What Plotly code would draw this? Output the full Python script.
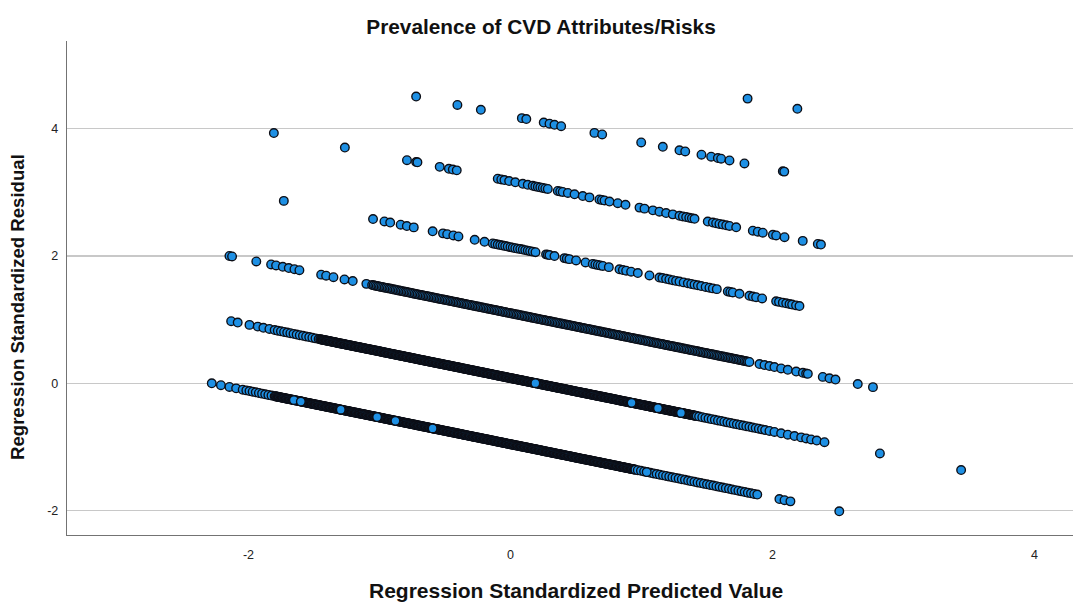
import plotly.graph_objects as go

# ---------------- data ----------------
title_text = "Prevalence of CVD Attributes/Risks"
x_title = "Regression Standardized Predicted Value"
y_title = "Regression Standardized Residual"
x_tick_vals = [-2, 0, 2, 4]
x_tick_text = ["-2", "0", "2", "4"]
y_tick_vals = [-2, 0, 2, 4]
y_tick_text = ["-2", "0", "2", "4"]

# band 0 (lowest stripe)
band0_x = [
    -2.280, -2.210, -2.145, -2.094, -2.044,
    -2.016, -1.992, -1.968, -1.944, -1.920, -1.896, -1.872, -1.848, -1.824,
    -1.800, -1.788, -1.776, -1.764, -1.752, -1.740, -1.728, -1.716, -1.704, -1.692,
    -1.680, -1.668, -1.656, -1.644, -1.632, -1.620, -1.608, -1.596, -1.584, -1.572,
    -1.560, -1.548, -1.536, -1.524, -1.512, -1.500, -1.488, -1.476, -1.464, -1.452,
    -1.440, -1.428, -1.416, -1.404, -1.392, -1.380, -1.368, -1.356, -1.344, -1.332,
    -1.320, -1.308, -1.296, -1.284, -1.272, -1.260, -1.248, -1.236, -1.224, -1.212,
    -1.200, -1.188, -1.176, -1.164, -1.152, -1.140, -1.128, -1.116, -1.104, -1.092,
    -1.080, -1.068, -1.056, -1.044, -1.032, -1.020, -1.008, -0.996, -0.984, -0.972,
    -0.960, -0.948, -0.936, -0.924, -0.912, -0.900, -0.888, -0.876, -0.864, -0.852,
    -0.840, -0.828, -0.816, -0.804, -0.792, -0.780, -0.768, -0.756, -0.744, -0.732,
    -0.720, -0.708, -0.696, -0.684, -0.672, -0.660, -0.648, -0.636, -0.624, -0.612,
    -0.600, -0.588, -0.576, -0.564, -0.552, -0.540, -0.528, -0.516, -0.504, -0.492,
    -0.480, -0.468, -0.456, -0.444, -0.432, -0.420, -0.408, -0.396, -0.384, -0.372,
    -0.360, -0.348, -0.336, -0.324, -0.312, -0.300, -0.288, -0.276, -0.264, -0.252,
    -0.240, -0.228, -0.216, -0.204, -0.192, -0.180, -0.168, -0.156, -0.144, -0.132,
    -0.120, -0.108, -0.096, -0.084, -0.072, -0.060, -0.048, -0.036, -0.024, -0.012,
    0.000, 0.012, 0.024, 0.036, 0.048, 0.060, 0.072, 0.084, 0.096, 0.108,
    0.120, 0.132, 0.144, 0.156, 0.168, 0.180, 0.192, 0.204, 0.216, 0.228,
    0.240, 0.252, 0.264, 0.276, 0.288, 0.300, 0.312, 0.324, 0.336, 0.348,
    0.360, 0.372, 0.384, 0.396, 0.408, 0.420, 0.432, 0.444, 0.456, 0.468,
    0.480, 0.492, 0.504, 0.516, 0.528, 0.540, 0.552, 0.564, 0.576, 0.588,
    0.600, 0.612, 0.624, 0.636, 0.648, 0.660, 0.672, 0.684, 0.696, 0.708,
    0.720, 0.732, 0.744, 0.756, 0.768, 0.780, 0.792, 0.804, 0.816, 0.828,
    0.840, 0.852, 0.864, 0.876, 0.888, 0.900, 0.912, 0.924, 0.936, 0.948,
    0.972, 0.996, 1.020, 1.044, 1.068, 1.092, 1.116, 1.140, 1.164, 1.188,
    1.212, 1.236, 1.260, 1.284, 1.308, 1.332, 1.356, 1.380, 1.404, 1.428,
    1.452, 1.476, 1.500, 1.524, 1.548, 1.572, 1.596, 1.620, 1.644, 1.668,
    1.692, 1.716, 1.740, 1.764, 1.788, 1.812, 1.836, 1.860, 1.884,
    2.053, 2.092, 2.137, 2.510,
]
band0_y = [
    -0.002, -0.032, -0.059, -0.081, -0.102,
    -0.113, -0.123, -0.133, -0.143, -0.154, -0.164, -0.174, -0.184, -0.194,
    -0.204, -0.209, -0.214, -0.219, -0.224, -0.229, -0.234, -0.239, -0.244, -0.249,
    -0.254, -0.259, -0.264, -0.269, -0.274, -0.279, -0.284, -0.289, -0.294, -0.299,
    -0.305, -0.310, -0.315, -0.320, -0.325, -0.330, -0.335, -0.340, -0.345, -0.350,
    -0.355, -0.360, -0.365, -0.370, -0.375, -0.380, -0.385, -0.390, -0.395, -0.400,
    -0.406, -0.411, -0.416, -0.421, -0.426, -0.431, -0.436, -0.441, -0.446, -0.451,
    -0.456, -0.461, -0.466, -0.471, -0.476, -0.481, -0.486, -0.491, -0.496, -0.501,
    -0.506, -0.511, -0.516, -0.521, -0.526, -0.531, -0.536, -0.541, -0.546, -0.551,
    -0.557, -0.562, -0.567, -0.572, -0.577, -0.582, -0.587, -0.592, -0.597, -0.602,
    -0.607, -0.612, -0.617, -0.622, -0.627, -0.632, -0.637, -0.642, -0.647, -0.652,
    -0.658, -0.663, -0.668, -0.673, -0.678, -0.683, -0.688, -0.693, -0.698, -0.703,
    -0.708, -0.713, -0.718, -0.723, -0.728, -0.733, -0.738, -0.743, -0.748, -0.753,
    -0.758, -0.763, -0.768, -0.773, -0.778, -0.783, -0.788, -0.793, -0.798, -0.803,
    -0.809, -0.814, -0.819, -0.824, -0.829, -0.834, -0.839, -0.844, -0.849, -0.854,
    -0.859, -0.864, -0.869, -0.874, -0.879, -0.884, -0.889, -0.894, -0.899, -0.904,
    -0.910, -0.915, -0.920, -0.925, -0.930, -0.935, -0.940, -0.945, -0.950, -0.955,
    -0.960, -0.965, -0.970, -0.975, -0.980, -0.985, -0.990, -0.995, -1.000, -1.005,
    -1.010, -1.015, -1.020, -1.025, -1.030, -1.035, -1.040, -1.045, -1.050, -1.055,
    -1.061, -1.066, -1.071, -1.076, -1.081, -1.086, -1.091, -1.096, -1.101, -1.106,
    -1.111, -1.116, -1.121, -1.126, -1.131, -1.136, -1.141, -1.146, -1.151, -1.156,
    -1.162, -1.167, -1.172, -1.177, -1.182, -1.187, -1.192, -1.197, -1.202, -1.207,
    -1.212, -1.217, -1.222, -1.227, -1.232, -1.237, -1.242, -1.247, -1.252, -1.257,
    -1.262, -1.267, -1.272, -1.277, -1.282, -1.287, -1.292, -1.297, -1.302, -1.307,
    -1.313, -1.318, -1.323, -1.328, -1.333, -1.338, -1.343, -1.348, -1.353, -1.358,
    -1.368, -1.378, -1.388, -1.398, -1.409, -1.419, -1.429, -1.439, -1.449, -1.459,
    -1.469, -1.479, -1.489, -1.499, -1.509, -1.519, -1.530, -1.540, -1.550, -1.560,
    -1.570, -1.580, -1.590, -1.600, -1.610, -1.620, -1.630, -1.640, -1.650, -1.661,
    -1.671, -1.681, -1.691, -1.701, -1.711, -1.721, -1.731, -1.741, -1.751,
    -1.822, -1.839, -1.858, -2.014,
]
# further cases packed between the ones above in the solid part of band 0
band0_mid_x = [
    -1.794, -1.782, -1.770, -1.758, -1.746, -1.734, -1.722, -1.710, -1.698, -1.686,
    -1.674, -1.662, -1.650, -1.638, -1.626, -1.614, -1.602, -1.590, -1.578, -1.566,
    -1.554, -1.542, -1.530, -1.518, -1.506, -1.494, -1.482, -1.470, -1.458, -1.446,
    -1.434, -1.422, -1.410, -1.398, -1.386, -1.374, -1.362, -1.350, -1.338, -1.326,
    -1.314, -1.302, -1.290, -1.278, -1.266, -1.254, -1.242, -1.230, -1.218, -1.206,
    -1.194, -1.182, -1.170, -1.158, -1.146, -1.134, -1.122, -1.110, -1.098, -1.086,
    -1.074, -1.062, -1.050, -1.038, -1.026, -1.014, -1.002, -0.990, -0.978, -0.966,
    -0.954, -0.942, -0.930, -0.918, -0.906, -0.894, -0.882, -0.870, -0.858, -0.846,
    -0.834, -0.822, -0.810, -0.798, -0.786, -0.774, -0.762, -0.750, -0.738, -0.726,
    -0.714, -0.702, -0.690, -0.678, -0.666, -0.654, -0.642, -0.630, -0.618, -0.606,
    -0.594, -0.582, -0.570, -0.558, -0.546, -0.534, -0.522, -0.510, -0.498, -0.486,
    -0.474, -0.462, -0.450, -0.438, -0.426, -0.414, -0.402, -0.390, -0.378, -0.366,
    -0.354, -0.342, -0.330, -0.318, -0.306, -0.294, -0.282, -0.270, -0.258, -0.246,
    -0.234, -0.222, -0.210, -0.198, -0.186, -0.174, -0.162, -0.150, -0.138, -0.126,
    -0.114, -0.102, -0.090, -0.078, -0.066, -0.054, -0.042, -0.030, -0.018, -0.006,
    0.006, 0.018, 0.030, 0.042, 0.054, 0.066, 0.078, 0.090, 0.102, 0.114,
    0.126, 0.138, 0.150, 0.162, 0.174, 0.186, 0.198, 0.210, 0.222, 0.234,
    0.246, 0.258, 0.270, 0.282, 0.294, 0.306, 0.318, 0.330, 0.342, 0.354,
    0.366, 0.378, 0.390, 0.402, 0.414, 0.426, 0.438, 0.450, 0.462, 0.474,
    0.486, 0.498, 0.510, 0.522, 0.534, 0.546, 0.558, 0.570, 0.582, 0.594,
    0.606, 0.618, 0.630, 0.642, 0.654, 0.666, 0.678, 0.690, 0.702, 0.714,
    0.726, 0.738, 0.750, 0.762, 0.774, 0.786, 0.798, 0.810, 0.822, 0.834,
    0.846, 0.858, 0.870, 0.882, 0.894, 0.906, 0.918, 0.930, 0.942, 0.954,
]
band0_mid_y = [
    -0.2065, -0.2115, -0.2165, -0.2215, -0.2265, -0.2315, -0.2365, -0.2415, -0.2465, -0.2515,
    -0.2565, -0.2615, -0.2665, -0.2715, -0.2765, -0.2815, -0.2865, -0.2915, -0.2965, -0.3015,
    -0.3075, -0.3125, -0.3175, -0.3225, -0.3275, -0.3325, -0.3375, -0.3425, -0.3475, -0.3525,
    -0.3575, -0.3625, -0.3675, -0.3725, -0.3775, -0.3825, -0.3875, -0.3925, -0.3975, -0.4025,
    -0.4085, -0.4135, -0.4185, -0.4235, -0.4285, -0.4335, -0.4385, -0.4435, -0.4485, -0.4535,
    -0.4585, -0.4635, -0.4685, -0.4735, -0.4785, -0.4835, -0.4885, -0.4935, -0.4985, -0.5035,
    -0.5085, -0.5135, -0.5185, -0.5235, -0.5285, -0.5335, -0.5385, -0.5435, -0.5485, -0.5535,
    -0.5595, -0.5645, -0.5695, -0.5745, -0.5795, -0.5845, -0.5895, -0.5945, -0.5995, -0.6045,
    -0.6095, -0.6145, -0.6195, -0.6245, -0.6295, -0.6345, -0.6395, -0.6445, -0.6495, -0.6545,
    -0.6605, -0.6655, -0.6705, -0.6755, -0.6805, -0.6855, -0.6905, -0.6955, -0.7005, -0.7055,
    -0.7105, -0.7155, -0.7205, -0.7255, -0.7305, -0.7355, -0.7405, -0.7455, -0.7505, -0.7555,
    -0.7605, -0.7655, -0.7705, -0.7755, -0.7805, -0.7855, -0.7905, -0.7955, -0.8005, -0.8055,
    -0.8115, -0.8165, -0.8215, -0.8265, -0.8315, -0.8365, -0.8415, -0.8465, -0.8515, -0.8565,
    -0.8615, -0.8665, -0.8715, -0.8765, -0.8815, -0.8865, -0.8915, -0.8965, -0.9015, -0.9065,
    -0.9125, -0.9175, -0.9225, -0.9275, -0.9325, -0.9375, -0.9425, -0.9475, -0.9525, -0.9575,
    -0.9625, -0.9675, -0.9725, -0.9775, -0.9825, -0.9875, -0.9925, -0.9975, -1.0025, -1.0075,
    -1.0125, -1.0175, -1.0225, -1.0275, -1.0325, -1.0375, -1.0425, -1.0475, -1.0525, -1.0575,
    -1.0635, -1.0685, -1.0735, -1.0785, -1.0835, -1.0885, -1.0935, -1.0985, -1.1035, -1.1085,
    -1.1135, -1.1185, -1.1235, -1.1285, -1.1335, -1.1385, -1.1435, -1.1485, -1.1535, -1.1585,
    -1.1645, -1.1695, -1.1745, -1.1795, -1.1845, -1.1895, -1.1945, -1.1995, -1.2045, -1.2095,
    -1.2145, -1.2195, -1.2245, -1.2295, -1.2345, -1.2395, -1.2445, -1.2495, -1.2545, -1.2595,
    -1.2645, -1.2695, -1.2745, -1.2795, -1.2845, -1.2895, -1.2945, -1.2995, -1.3045, -1.3095,
    -1.3155, -1.3205, -1.3255, -1.3305, -1.3355, -1.3405, -1.3455, -1.3505, -1.3555, -1.3605,
]

# band 1
band1_x = [
    -2.132, -2.082, -1.992, -1.929, -1.886, -1.840,
    -1.800, -1.776, -1.752, -1.728, -1.704, -1.680, -1.656, -1.632, -1.608, -1.584,
    -1.560, -1.536, -1.512, -1.488, -1.464,
    -1.452, -1.440, -1.428, -1.416, -1.404, -1.392, -1.380, -1.368, -1.356, -1.344,
    -1.332, -1.320, -1.308, -1.296, -1.284, -1.272, -1.260, -1.248, -1.236, -1.224,
    -1.212, -1.200, -1.188, -1.176, -1.164, -1.152, -1.140, -1.128, -1.116, -1.104,
    -1.092, -1.080, -1.068, -1.056, -1.044, -1.032, -1.020, -1.008, -0.996, -0.984,
    -0.972, -0.960, -0.948, -0.936, -0.924, -0.912, -0.900, -0.888, -0.876, -0.864,
    -0.852, -0.840, -0.828, -0.816, -0.804, -0.792, -0.780, -0.768, -0.756, -0.744,
    -0.732, -0.720, -0.708, -0.696, -0.684, -0.672, -0.660, -0.648, -0.636, -0.624,
    -0.612, -0.600, -0.588, -0.576, -0.564, -0.552, -0.540, -0.528, -0.516, -0.504,
    -0.492, -0.480, -0.468, -0.456, -0.444, -0.432, -0.420, -0.408, -0.396, -0.384,
    -0.372, -0.360, -0.348, -0.336, -0.324, -0.312, -0.300, -0.288, -0.276, -0.264,
    -0.252, -0.240, -0.228, -0.216, -0.204, -0.192, -0.180, -0.168, -0.156, -0.144,
    -0.132, -0.120, -0.108, -0.096, -0.084, -0.072, -0.060, -0.048, -0.036, -0.024,
    -0.012, 0.000, 0.012, 0.024, 0.036, 0.048, 0.060, 0.072, 0.084, 0.096,
    0.108, 0.120, 0.132, 0.144, 0.156, 0.168, 0.180, 0.192, 0.204, 0.216,
    0.228, 0.240, 0.252, 0.264, 0.276, 0.288, 0.300, 0.312, 0.324, 0.336,
    0.348, 0.360, 0.372, 0.384, 0.396, 0.408, 0.420, 0.432, 0.444, 0.456,
    0.468, 0.480, 0.492, 0.504, 0.516, 0.528, 0.540, 0.552, 0.564, 0.576,
    0.588, 0.600, 0.612, 0.624, 0.636, 0.648, 0.660, 0.672, 0.684, 0.696,
    0.708, 0.720, 0.732, 0.744, 0.756, 0.768, 0.780, 0.792, 0.804, 0.816,
    0.828, 0.840, 0.852, 0.864, 0.876, 0.888, 0.900, 0.912, 0.924, 0.936,
    0.948, 0.960, 0.972, 0.984, 0.996, 1.008, 1.020, 1.032, 1.044, 1.056,
    1.068, 1.080, 1.092, 1.104, 1.116, 1.128, 1.140, 1.152, 1.164, 1.176,
    1.188, 1.200, 1.212, 1.224, 1.236, 1.248, 1.260, 1.272, 1.284, 1.296,
    1.308, 1.320, 1.332, 1.344, 1.356, 1.368, 1.380, 1.392, 1.404, 1.416,
    1.440, 1.464, 1.488, 1.512, 1.536, 1.560, 1.584, 1.608, 1.632, 1.656,
    1.680, 1.704, 1.728, 1.752, 1.776, 1.800, 1.824, 1.848, 1.872, 1.896,
    1.920, 1.944,
    1.977, 2.015, 2.066, 2.117, 2.168, 2.219, 2.257, 2.295, 2.338, 2.397,
    2.820, 3.440,
]
band1_y = [
    0.975, 0.954, 0.917, 0.890, 0.872, 0.853,
    0.836, 0.826, 0.816, 0.806, 0.796, 0.786, 0.776, 0.765, 0.755, 0.745,
    0.735, 0.725, 0.715, 0.705, 0.695,
    0.690, 0.685, 0.680, 0.675, 0.670, 0.665, 0.660, 0.655, 0.650, 0.645,
    0.639, 0.634, 0.629, 0.624, 0.619, 0.614, 0.609, 0.604, 0.599, 0.594,
    0.589, 0.584, 0.579, 0.574, 0.569, 0.564, 0.559, 0.554, 0.549, 0.544,
    0.539, 0.534, 0.529, 0.524, 0.519, 0.514, 0.509, 0.504, 0.499, 0.494,
    0.488, 0.483, 0.478, 0.473, 0.468, 0.463, 0.458, 0.453, 0.448, 0.443,
    0.438, 0.433, 0.428, 0.423, 0.418, 0.413, 0.408, 0.403, 0.398, 0.393,
    0.387, 0.382, 0.377, 0.372, 0.367, 0.362, 0.357, 0.352, 0.347, 0.342,
    0.337, 0.332, 0.327, 0.322, 0.317, 0.312, 0.307, 0.302, 0.297, 0.292,
    0.287, 0.282, 0.277, 0.272, 0.267, 0.262, 0.257, 0.252, 0.247, 0.242,
    0.236, 0.231, 0.226, 0.221, 0.216, 0.211, 0.206, 0.201, 0.196, 0.191,
    0.186, 0.181, 0.176, 0.171, 0.166, 0.161, 0.156, 0.151, 0.146, 0.141,
    0.135, 0.130, 0.125, 0.120, 0.115, 0.110, 0.105, 0.100, 0.095, 0.090,
    0.085, 0.080, 0.075, 0.070, 0.065, 0.060, 0.055, 0.050, 0.045, 0.040,
    0.035, 0.030, 0.025, 0.020, 0.015, 0.010, 0.005, 0.000, -0.005, -0.010,
    -0.016, -0.021, -0.026, -0.031, -0.036, -0.041, -0.046, -0.051, -0.056, -0.061,
    -0.066, -0.071, -0.076, -0.081, -0.086, -0.091, -0.096, -0.101, -0.106, -0.111,
    -0.117, -0.122, -0.127, -0.132, -0.137, -0.142, -0.147, -0.152, -0.157, -0.162,
    -0.167, -0.172, -0.177, -0.182, -0.187, -0.192, -0.197, -0.202, -0.207, -0.212,
    -0.217, -0.222, -0.227, -0.232, -0.237, -0.242, -0.247, -0.252, -0.257, -0.262,
    -0.268, -0.273, -0.278, -0.283, -0.288, -0.293, -0.298, -0.303, -0.308, -0.313,
    -0.318, -0.323, -0.328, -0.333, -0.338, -0.343, -0.348, -0.353, -0.358, -0.363,
    -0.369, -0.374, -0.379, -0.384, -0.389, -0.394, -0.399, -0.404, -0.409, -0.414,
    -0.419, -0.424, -0.429, -0.434, -0.439, -0.444, -0.449, -0.454, -0.459, -0.464,
    -0.469, -0.474, -0.479, -0.484, -0.489, -0.494, -0.499, -0.504, -0.509, -0.514,
    -0.525, -0.535, -0.545, -0.555, -0.565, -0.575, -0.585, -0.595, -0.605, -0.616,
    -0.626, -0.636, -0.646, -0.656, -0.666, -0.676, -0.686, -0.696, -0.706, -0.716,
    -0.726, -0.736,
    -0.750, -0.766, -0.788, -0.809, -0.831, -0.852, -0.868, -0.884, -0.902, -0.927,
    -1.104, -1.365,
]
# further cases packed between the ones above in the solid part of band 1
band1_mid_x = [
    -1.446, -1.434, -1.422, -1.410, -1.398, -1.386, -1.374, -1.362, -1.350, -1.338,
    -1.326, -1.314, -1.302, -1.290, -1.278, -1.266, -1.254, -1.242, -1.230, -1.218,
    -1.206, -1.194, -1.182, -1.170, -1.158, -1.146, -1.134, -1.122, -1.110, -1.098,
    -1.086, -1.074, -1.062, -1.050, -1.038, -1.026, -1.014, -1.002, -0.990, -0.978,
    -0.966, -0.954, -0.942, -0.930, -0.918, -0.906, -0.894, -0.882, -0.870, -0.858,
    -0.846, -0.834, -0.822, -0.810, -0.798, -0.786, -0.774, -0.762, -0.750, -0.738,
    -0.726, -0.714, -0.702, -0.690, -0.678, -0.666, -0.654, -0.642, -0.630, -0.618,
    -0.606, -0.594, -0.582, -0.570, -0.558, -0.546, -0.534, -0.522, -0.510, -0.498,
    -0.486, -0.474, -0.462, -0.450, -0.438, -0.426, -0.414, -0.402, -0.390, -0.378,
    -0.366, -0.354, -0.342, -0.330, -0.318, -0.306, -0.294, -0.282, -0.270, -0.258,
    -0.246, -0.234, -0.222, -0.210, -0.198, -0.186, -0.174, -0.162, -0.150, -0.138,
    -0.126, -0.114, -0.102, -0.090, -0.078, -0.066, -0.054, -0.042, -0.030, -0.018,
    -0.006, 0.006, 0.018, 0.030, 0.042, 0.054, 0.066, 0.078, 0.090, 0.102,
    0.114, 0.126, 0.138, 0.150, 0.162, 0.174, 0.186, 0.198, 0.210, 0.222,
    0.234, 0.246, 0.258, 0.270, 0.282, 0.294, 0.306, 0.318, 0.330, 0.342,
    0.354, 0.366, 0.378, 0.390, 0.402, 0.414, 0.426, 0.438, 0.450, 0.462,
    0.474, 0.486, 0.498, 0.510, 0.522, 0.534, 0.546, 0.558, 0.570, 0.582,
    0.594, 0.606, 0.618, 0.630, 0.642, 0.654, 0.666, 0.678, 0.690, 0.702,
    0.714, 0.726, 0.738, 0.750, 0.762, 0.774, 0.786, 0.798, 0.810, 0.822,
    0.834, 0.846, 0.858, 0.870, 0.882, 0.894, 0.906, 0.918, 0.930, 0.942,
    0.954, 0.966, 0.978, 0.990, 1.002, 1.014, 1.026, 1.038, 1.050, 1.062,
    1.074, 1.086, 1.098, 1.110, 1.122, 1.134, 1.146, 1.158, 1.170, 1.182,
    1.194, 1.206, 1.218, 1.230, 1.242, 1.254, 1.266, 1.278, 1.290, 1.302,
    1.314, 1.326, 1.338, 1.350, 1.362, 1.374, 1.386, 1.398, 1.410, 1.422,
]
band1_mid_y = [
    0.6875, 0.6825, 0.6775, 0.6725, 0.6675, 0.6625, 0.6575, 0.6525, 0.6475, 0.6425,
    0.6365, 0.6315, 0.6265, 0.6215, 0.6165, 0.6115, 0.6065, 0.6015, 0.5965, 0.5915,
    0.5865, 0.5815, 0.5765, 0.5715, 0.5665, 0.5615, 0.5565, 0.5515, 0.5465, 0.5415,
    0.5365, 0.5315, 0.5265, 0.5215, 0.5165, 0.5115, 0.5065, 0.5015, 0.4965, 0.4915,
    0.4855, 0.4805, 0.4755, 0.4705, 0.4655, 0.4605, 0.4555, 0.4505, 0.4455, 0.4405,
    0.4355, 0.4305, 0.4255, 0.4205, 0.4155, 0.4105, 0.4055, 0.4005, 0.3955, 0.3905,
    0.3845, 0.3795, 0.3745, 0.3695, 0.3645, 0.3595, 0.3545, 0.3495, 0.3445, 0.3395,
    0.3345, 0.3295, 0.3245, 0.3195, 0.3145, 0.3095, 0.3045, 0.2995, 0.2945, 0.2895,
    0.2845, 0.2795, 0.2745, 0.2695, 0.2645, 0.2595, 0.2545, 0.2495, 0.2445, 0.2395,
    0.2335, 0.2285, 0.2235, 0.2185, 0.2135, 0.2085, 0.2035, 0.1985, 0.1935, 0.1885,
    0.1835, 0.1785, 0.1735, 0.1685, 0.1635, 0.1585, 0.1535, 0.1485, 0.1435, 0.1385,
    0.1325, 0.1275, 0.1225, 0.1175, 0.1125, 0.1075, 0.1025, 0.0975, 0.0925, 0.0875,
    0.0825, 0.0775, 0.0725, 0.0675, 0.0625, 0.0575, 0.0525, 0.0475, 0.0425, 0.0375,
    0.0325, 0.0275, 0.0225, 0.0175, 0.0125, 0.0075, 0.0025, -0.0025, -0.0075, -0.0125,
    -0.0185, -0.0235, -0.0285, -0.0335, -0.0385, -0.0435, -0.0485, -0.0535, -0.0585, -0.0635,
    -0.0685, -0.0735, -0.0785, -0.0835, -0.0885, -0.0935, -0.0985, -0.1035, -0.1085, -0.1135,
    -0.1195, -0.1245, -0.1295, -0.1345, -0.1395, -0.1445, -0.1495, -0.1545, -0.1595, -0.1645,
    -0.1695, -0.1745, -0.1795, -0.1845, -0.1895, -0.1945, -0.1995, -0.2045, -0.2095, -0.2145,
    -0.2195, -0.2245, -0.2295, -0.2345, -0.2395, -0.2445, -0.2495, -0.2545, -0.2595, -0.2645,
    -0.2705, -0.2755, -0.2805, -0.2855, -0.2905, -0.2955, -0.3005, -0.3055, -0.3105, -0.3155,
    -0.3205, -0.3255, -0.3305, -0.3355, -0.3405, -0.3455, -0.3505, -0.3555, -0.3605, -0.3655,
    -0.3715, -0.3765, -0.3815, -0.3865, -0.3915, -0.3965, -0.4015, -0.4065, -0.4115, -0.4165,
    -0.4215, -0.4265, -0.4315, -0.4365, -0.4415, -0.4465, -0.4515, -0.4565, -0.4615, -0.4665,
    -0.4715, -0.4765, -0.4815, -0.4865, -0.4915, -0.4965, -0.5015, -0.5065, -0.5115, -0.5165,
]

# band 2
band2_x = [
    -2.145, -2.125, -1.940, -1.827, -1.789, -1.738, -1.692, -1.649, -1.611,
    -1.445, -1.407, -1.351, -1.267, -1.204, -1.100,
    -1.056, -1.044, -1.020, -1.008, -0.984, -0.972, -0.948, -0.936, -0.912, -0.900,
    -0.876, -0.864, -0.840, -0.828, -0.804, -0.792, -0.768, -0.756, -0.732, -0.720,
    -0.696, -0.684, -0.660, -0.648, -0.624, -0.612, -0.588, -0.576, -0.552, -0.540,
    -0.516, -0.504, -0.480, -0.468, -0.444, -0.432, -0.408, -0.396, -0.372, -0.360,
    -0.336, -0.324, -0.300, -0.288, -0.264, -0.252, -0.228, -0.216, -0.192, -0.180,
    -0.156, -0.144, -0.120, -0.108, -0.084, -0.072, -0.048, -0.036, -0.012, 0.000,
    0.024, 0.036, 0.060, 0.072, 0.096, 0.108, 0.132, 0.144, 0.168, 0.180,
    0.204, 0.216, 0.240, 0.252, 0.276, 0.288, 0.312, 0.324, 0.348, 0.360,
    0.384, 0.396, 0.420, 0.432, 0.456, 0.468, 0.492, 0.504, 0.528, 0.540,
    0.564, 0.576, 0.600, 0.612, 0.636, 0.648, 0.672, 0.684, 0.708, 0.720,
    0.744, 0.756, 0.780, 0.792, 0.816, 0.828, 0.852, 0.864, 0.888, 0.900,
    0.924, 0.936, 0.960, 0.972, 0.996, 1.008, 1.032, 1.044, 1.068, 1.080,
    1.104, 1.116, 1.140, 1.152, 1.176, 1.188, 1.212, 1.224, 1.248, 1.260,
    1.284, 1.296, 1.320, 1.332, 1.356, 1.368, 1.392, 1.404, 1.428, 1.440,
    1.464, 1.476, 1.500, 1.512, 1.536, 1.548, 1.572, 1.584, 1.608, 1.620,
    1.644, 1.656, 1.680, 1.692, 1.716, 1.728, 1.752, 1.764, 1.788, 1.800,
    1.824, 1.901, 1.939, 1.977, 2.015, 2.066, 2.117, 2.181, 2.232, 2.257,
    2.270, 2.384, 2.435, 2.481, 2.651, 2.767,
]
band2_y = [
    2.001, 1.993, 1.915, 1.867, 1.851, 1.830, 1.811, 1.793, 1.777,
    1.707, 1.691, 1.667, 1.632, 1.606, 1.562,
    1.544, 1.539, 1.529, 1.524, 1.514, 1.509, 1.499, 1.494, 1.484, 1.478,
    1.468, 1.463, 1.453, 1.448, 1.438, 1.433, 1.423, 1.418, 1.408, 1.402,
    1.392, 1.387, 1.377, 1.372, 1.362, 1.357, 1.347, 1.342, 1.332, 1.326,
    1.317, 1.312, 1.302, 1.297, 1.287, 1.282, 1.272, 1.267, 1.257, 1.251,
    1.241, 1.236, 1.226, 1.221, 1.211, 1.206, 1.196, 1.191, 1.181, 1.175,
    1.166, 1.161, 1.151, 1.146, 1.136, 1.131, 1.121, 1.116, 1.106, 1.100,
    1.090, 1.085, 1.075, 1.070, 1.060, 1.055, 1.045, 1.040, 1.030, 1.024,
    1.014, 1.009, 0.999, 0.994, 0.984, 0.979, 0.969, 0.964, 0.954, 0.948,
    0.939, 0.934, 0.924, 0.919, 0.909, 0.904, 0.894, 0.889, 0.879, 0.873,
    0.863, 0.858, 0.848, 0.843, 0.833, 0.828, 0.818, 0.813, 0.803, 0.797,
    0.788, 0.783, 0.773, 0.768, 0.758, 0.753, 0.743, 0.738, 0.728, 0.722,
    0.712, 0.707, 0.697, 0.692, 0.682, 0.677, 0.667, 0.662, 0.652, 0.646,
    0.636, 0.631, 0.621, 0.616, 0.606, 0.601, 0.591, 0.586, 0.576, 0.570,
    0.561, 0.556, 0.546, 0.541, 0.531, 0.526, 0.516, 0.511, 0.501, 0.495,
    0.485, 0.480, 0.470, 0.465, 0.455, 0.450, 0.440, 0.435, 0.425, 0.419,
    0.410, 0.405, 0.395, 0.390, 0.380, 0.375, 0.365, 0.360, 0.350, 0.344,
    0.334, 0.302, 0.286, 0.270, 0.254, 0.232, 0.211, 0.184, 0.163, 0.152,
    0.147, 0.099, 0.077, 0.058, -0.013, -0.062,
]
# further cases packed into the gaps of band 2
band2_mid_x = [
    -1.032, -0.996, -0.960, -0.924, -0.888, -0.852, -0.816, -0.780, -0.744, -0.708,
    -0.672, -0.636, -0.600, -0.564, -0.528, -0.492, -0.456, -0.420, -0.384, -0.348,
    -0.312, -0.276, -0.240, -0.204, -0.168, -0.132, -0.096, -0.060, -0.024, 0.012,
    0.048, 0.084, 0.120, 0.156, 0.192, 0.228, 0.264, 0.300, 0.336, 0.372,
    0.408, 0.444, 0.480, 0.516, 0.552, 0.588, 0.624, 0.660, 0.696, 0.732,
    0.768, 0.804, 0.840, 0.876, 0.912, 0.948, 0.984, 1.020, 1.056, 1.092,
    1.128, 1.164, 1.200, 1.236, 1.272, 1.308, 1.344, 1.380, 1.416, 1.452,
    1.488, 1.524, 1.560, 1.596, 1.632, 1.668, 1.704, 1.740, 1.776, 1.812,
]
band2_mid_y = [
    1.533, 1.518, 1.503, 1.488, 1.473, 1.458, 1.443, 1.428, 1.412, 1.397,
    1.382, 1.367, 1.352, 1.337, 1.322, 1.307, 1.292, 1.276, 1.261, 1.246,
    1.231, 1.216, 1.201, 1.186, 1.171, 1.155, 1.140, 1.125, 1.110, 1.095,
    1.080, 1.065, 1.050, 1.034, 1.019, 1.004, 0.989, 0.974, 0.959, 0.944,
    0.929, 0.914, 0.898, 0.883, 0.868, 0.853, 0.838, 0.823, 0.808, 0.793,
    0.777, 0.762, 0.747, 0.732, 0.717, 0.702, 0.687, 0.672, 0.656, 0.641,
    0.626, 0.611, 0.596, 0.581, 0.566, 0.551, 0.536, 0.520, 0.505, 0.490,
    0.475, 0.460, 0.445, 0.430, 0.415, 0.399, 0.384, 0.369, 0.354, 0.339,
]

# band 3
band3_x = [
    -1.730, -1.049, -0.962, -0.918, -0.838, -0.791, -0.738, -0.594, -0.515, -0.483,
    -0.436, -0.397, -0.273, -0.198, -0.135, -0.116, -0.097, -0.078, -0.059, -0.040,
    -0.021, 0.000, 0.018, 0.037, 0.056, 0.075, 0.094, 0.113, 0.132, 0.150,
    0.170, 0.191, 0.272, 0.285, 0.298, 0.336, 0.412, 0.430, 0.450, 0.501,
    0.573, 0.628, 0.648, 0.667, 0.686, 0.705, 0.751, 0.832, 0.858, 0.883,
    0.921, 0.972, 1.061, 1.137, 1.160, 1.188, 1.213, 1.239, 1.264, 1.290,
    1.322, 1.354, 1.380, 1.405, 1.430, 1.456, 1.490, 1.519, 1.545, 1.575,
    1.659, 1.678, 1.697, 1.748, 1.824, 1.850, 1.875, 1.921, 2.028, 2.050,
    2.079, 2.105, 2.130, 2.150, 2.180, 2.206,
]
band3_y = [
    2.867, 2.581, 2.544, 2.526, 2.492, 2.472, 2.450, 2.389, 2.356, 2.343,
    2.323, 2.307, 2.255, 2.223, 2.197, 2.189, 2.181, 2.173, 2.165, 2.157,
    2.149, 2.140, 2.132, 2.124, 2.116, 2.109, 2.101, 2.093, 2.085, 2.077,
    2.069, 2.060, 2.026, 2.020, 2.015, 1.999, 1.967, 1.959, 1.951, 1.930,
    1.899, 1.876, 1.868, 1.860, 1.852, 1.844, 1.825, 1.791, 1.780, 1.769,
    1.753, 1.732, 1.694, 1.662, 1.653, 1.641, 1.631, 1.620, 1.609, 1.598,
    1.585, 1.571, 1.560, 1.550, 1.539, 1.528, 1.514, 1.502, 1.491, 1.479,
    1.443, 1.435, 1.427, 1.406, 1.374, 1.363, 1.353, 1.333, 1.288, 1.279,
    1.267, 1.256, 1.245, 1.237, 1.224, 1.213,
]

# band 4
band4_x = [
    -1.806, -1.264, -0.790, -0.720, -0.710, -0.540, -0.470, -0.440, -0.410, -0.097,
    -0.070, -0.046, -0.010, 0.037, 0.094, 0.132, 0.170, 0.190, 0.209, 0.228,
    0.247, 0.266, 0.285, 0.361, 0.380, 0.399, 0.438, 0.489, 0.552, 0.603,
    0.679, 0.698, 0.718, 0.756, 0.819, 0.878, 0.985, 1.023, 1.087, 1.137,
    1.188, 1.239, 1.290, 1.316, 1.341, 1.365, 1.385, 1.405, 1.506, 1.545,
    1.570, 1.595, 1.620, 1.647, 1.672, 1.723, 1.850, 1.888, 1.926, 2.003,
    2.028, 2.092, 2.231, 2.346, 2.370,
]
band4_y = [
    3.934, 3.706, 3.507, 3.477, 3.473, 3.402, 3.372, 3.360, 3.347, 3.216,
    3.204, 3.194, 3.179, 3.159, 3.136, 3.120, 3.104, 3.095, 3.087, 3.079,
    3.071, 3.063, 3.055, 3.023, 3.015, 3.007, 2.991, 2.970, 2.943, 2.922,
    2.890, 2.882, 2.873, 2.857, 2.831, 2.806, 2.761, 2.745, 2.718, 2.697,
    2.676, 2.655, 2.633, 2.622, 2.612, 2.602, 2.593, 2.585, 2.542, 2.526,
    2.516, 2.505, 2.495, 2.483, 2.473, 2.451, 2.398, 2.382, 2.366, 2.334,
    2.323, 2.296, 2.238, 2.190, 2.180,
]

# band 5
band5_x = [
    -0.720, -0.405, -0.226, 0.087, 0.121, 0.254, 0.298, 0.336, 0.387, 0.641,
    0.700, 0.998, 1.163, 1.290, 1.334, 1.458, 1.532, 1.583, 1.608, 1.672,
    1.786, 2.079, 2.090,
]
band5_y = [
    4.507, 4.375, 4.300, 4.168, 4.154, 4.098, 4.080, 4.064, 4.042, 3.936,
    3.911, 3.786, 3.717, 3.663, 3.645, 3.593, 3.562, 3.540, 3.530, 3.503,
    3.455, 3.332, 3.327,
]

# band 6
band6_x = [1.810, 2.190]
band6_y = [4.475, 4.315]

# cases that sit on top of the dense stripes (drawn last)
top_x = [-1.653, -1.600, -1.295, -1.018, -0.878, -0.594, 1.040, 0.190, 0.925, 1.126, 1.302]
top_y = [-0.266, -0.288, -0.416, -0.532, -0.591, -0.711, -1.397, 0.000, -0.309, -0.393, -0.467]

# ---------------- build (draw order: each stripe left to right) ----------------
groups = [
    (band0_x + band0_mid_x, band0_y + band0_mid_y),
    (band1_x + band1_mid_x, band1_y + band1_mid_y),
    (band2_x + band2_mid_x, band2_y + band2_mid_y),
    (band3_x, band3_y), (band4_x, band4_y),
    (band5_x, band5_y), (band6_x, band6_y),
]
xs, ys = [], []
for bx, by in groups:
    if len(bx) != len(by):
        raise ValueError(f"length mismatch {len(bx)} vs {len(by)}")
    for px, py in sorted(zip(bx, by)):
        xs.append(px)
        ys.append(py)
if len(top_x) != len(top_y):
    raise ValueError("top length mismatch")
xs += top_x
ys += top_y

FONT = "Liberation Sans, Arial, sans-serif"

fig = go.Figure()
fig.add_trace(go.Scatter(
    x=xs, y=ys, mode="markers",
    marker=dict(size=8.6, color="rgb(30,144,228)",
                line=dict(color="rgb(12,14,22)", width=1.35)),
    hoverinfo="skip", showlegend=False,
))

W, H = 1074, 603
L, R, T, B = 67, 1, 41, 68
pw = W - L - R
ph = H - T - B

fig.update_layout(
    width=W, height=H,
    margin=dict(l=L, r=R, t=T, b=B, pad=0),
    paper_bgcolor="white", plot_bgcolor="white",
    font=dict(family=FONT, color="#222222"),
    title=dict(text=title_text, x=541 / W, xref="container", xanchor="center",
               y=1 - 27 / H, yref="container", yanchor="middle",
               font=dict(family=FONT, size=20.8, color="#111111", weight="bold")),
    showlegend=False,
)
fig.update_xaxes(
    range=[-3.385, 4.294], tickvals=x_tick_vals, ticktext=x_tick_text,
    showgrid=False, zeroline=False, showline=True, linecolor="#737373", linewidth=1.2,
    ticks="outside", ticklen=8, tickcolor="rgba(0,0,0,0)",
    tickfont=dict(family=FONT, size=12.5, color="#222222"),
)
fig.update_yaxes(
    range=[-2.387, 5.381], tickvals=y_tick_vals, ticktext=y_tick_text,
    showgrid=True, gridcolor="#c8c8c8", gridwidth=1.2,
    zeroline=False, showline=True, linecolor="#737373", linewidth=1.2,
    ticks="outside", ticklen=5, tickcolor="rgba(0,0,0,0)",
    tickfont=dict(family=FONT, size=12.5, color="#222222"),
)

fig.add_annotation(text=x_title, xref="paper", yref="paper",
                   x=(576 - L) / pw, y=(H - B - 590) / ph,
                   xanchor="center", yanchor="middle", showarrow=False,
                   font=dict(family=FONT, size=21, color="#111111", weight="bold"))
fig.add_annotation(text=y_title, xref="paper", yref="paper",
                   x=(17 - L) / pw, y=(H - B - 307) / ph, textangle=-90,
                   xanchor="center", yanchor="middle", showarrow=False,
                   font=dict(family=FONT, size=18.6, color="#111111", weight="bold"))

fig.write_html("out.html",
               config={"displayModeBar": False, "staticPlot": True},
               post_script="document.body.style.margin='0';document.body.style.overflow='hidden';")
